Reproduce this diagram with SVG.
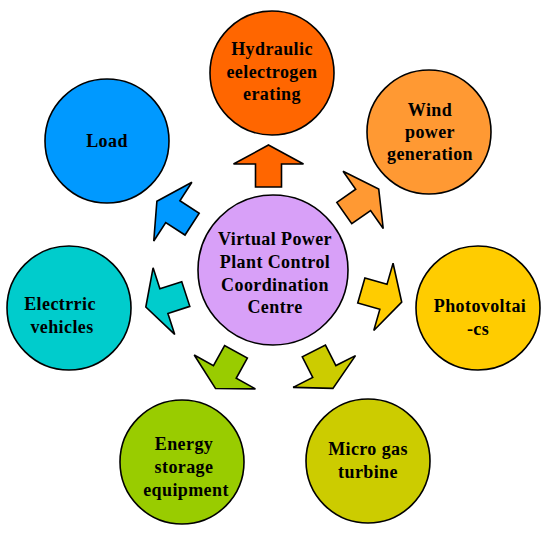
<svg xmlns="http://www.w3.org/2000/svg" xmlns:xlink="http://www.w3.org/1999/xlink" width="550" height="534" viewBox="0 0 550 534">
<style>
.c{stroke:#000;stroke-width:1.6}
.a{stroke:#000;stroke-width:1.6;stroke-linejoin:miter}
text{font-family:"Liberation Serif","Times New Roman",serif;font-weight:bold;font-size:18px;fill:#000;text-anchor:middle;letter-spacing:0.4px}
</style>
<defs>
<path id="arr" d="M0,-21 L35,-2 L13,-2 L13,21 L-13,21 L-13,-2 L-35,-2 Z"/>
</defs>
<rect width="550" height="534" fill="#fff"/>
<g id="connectors">
<use xlink:href="#arr" class="a" fill="#FF6600" transform="translate(268.5,166) rotate(0)"/>
<use xlink:href="#arr" class="a" fill="#FF9933" transform="translate(361.5,201) rotate(55)"/>
<use xlink:href="#arr" class="a" fill="#FFCC00" transform="translate(381.5,296.3) rotate(106)"/>
<use xlink:href="#arr" class="a" fill="#CCCC00" transform="translate(323.4,369.7) rotate(153)"/>
<use xlink:href="#arr" class="a" fill="#99CC00" transform="translate(225.8,370.2) rotate(-151)"/>
<use xlink:href="#arr" class="a" fill="#00CCCC" transform="translate(165.8,300.5) rotate(-108)"/>
<use xlink:href="#arr" class="a" fill="#0099FF" transform="translate(174.5,212.7) rotate(-57)"/>
</g>
<g id="center">
<circle class="c" cx="273" cy="270" r="75" fill="#D8A0F8"/>
<text x="275" y="245">Virtual Power</text>
<text x="275" y="267.5">Plant Control</text>
<text x="275" y="290.5">Coordination</text>
<text x="275" y="313">Centre</text>
</g>
<g id="hydraulic">
<circle class="c" cx="272" cy="73" r="62" fill="#FF6600"/>
<text x="272" y="55">Hydraulic</text>
<text x="272" y="77.5">eelectrogen</text>
<text x="272" y="100">erating</text>
</g>
<g id="wind">
<circle class="c" cx="429" cy="132" r="62" fill="#FF9933"/>
<text x="430" y="116">Wind</text>
<text x="430" y="138">power</text>
<text x="430" y="160">generation</text>
</g>
<g id="photovoltaics">
<circle class="c" cx="478" cy="308" r="62" fill="#FFCC00"/>
<text x="480" y="312">Photovoltai</text>
<text x="478" y="335">-cs</text>
</g>
<g id="microgas">
<circle class="c" cx="368" cy="461" r="62" fill="#CCCC00"/>
<text x="368" y="455">Micro gas</text>
<text x="368" y="478">turbine</text>
</g>
<g id="storage">
<circle class="c" cx="182" cy="462" r="62" fill="#99CC00"/>
<text x="184" y="450">Energy</text>
<text x="184" y="473">storage</text>
<text x="186" y="496">equipment</text>
</g>
<g id="electric">
<circle class="c" cx="69" cy="308" r="62" fill="#00CCCC"/>
<text x="60" y="310">Electrric</text>
<text x="62" y="333">vehicles</text>
</g>
<g id="load">
<circle class="c" cx="107" cy="141" r="62" fill="#0099FF"/>
<text x="107" y="147">Load</text>
</g>
</svg>
